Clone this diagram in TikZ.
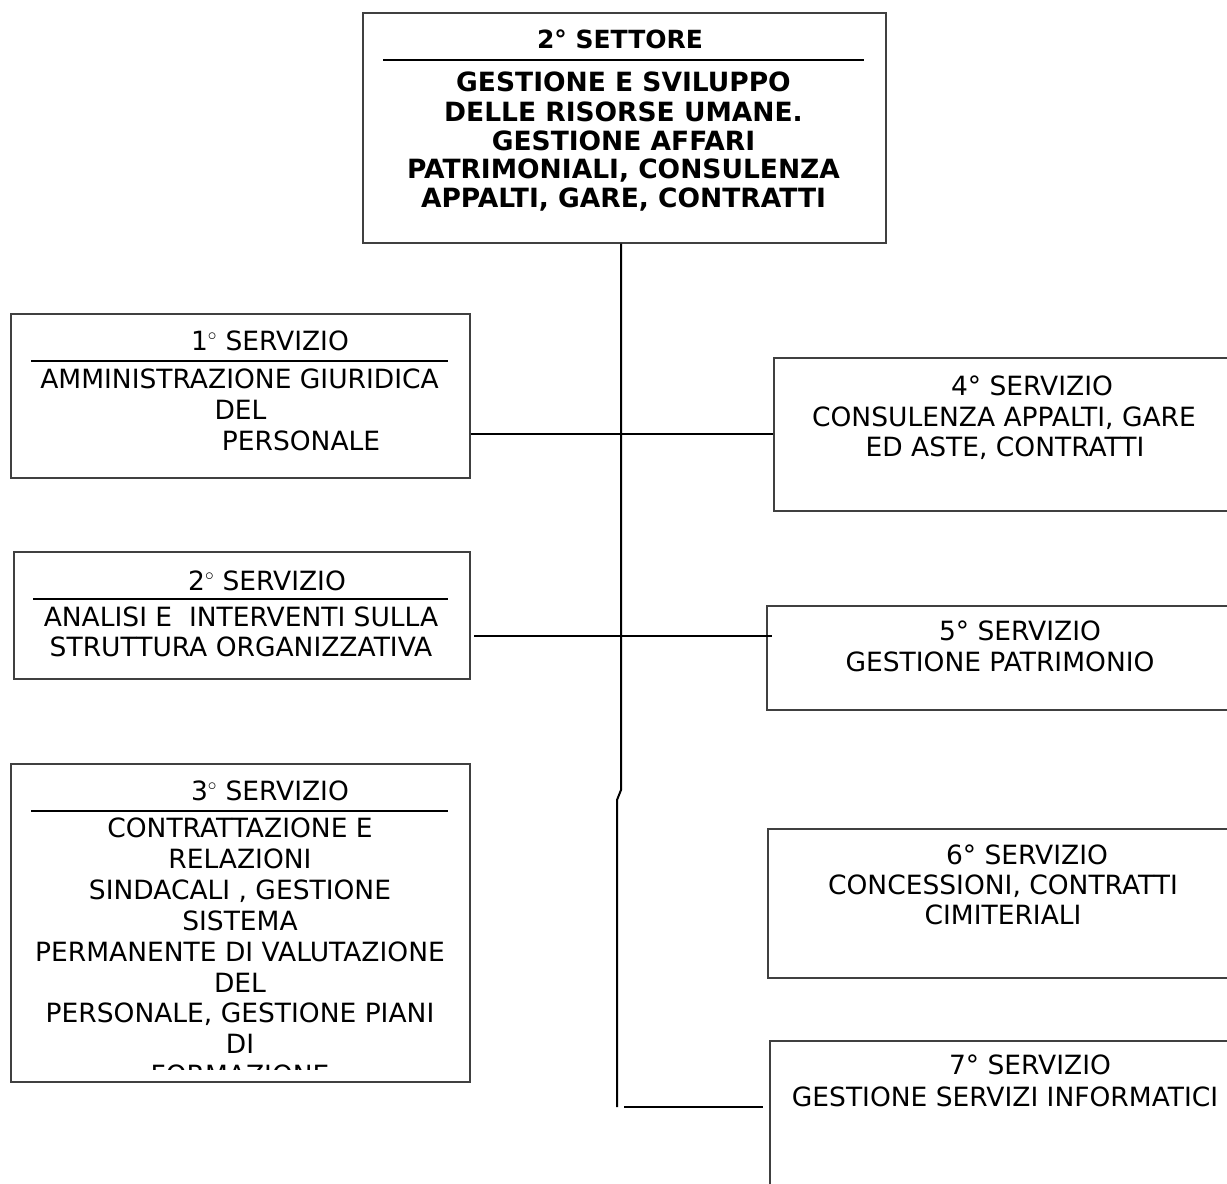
\documentclass[tikz,border=0pt]{standalone}
\usepackage{fontspec}
\setmainfont{DejaVu Sans}
\begin{document}
\begin{tikzpicture}[x=1pt,y=-1pt,
  box/.style={draw=black!75, line width=1.5pt, rectangle, inner sep=0pt, anchor=north west},
  conn/.style={line width=2pt, draw=black},
  rulel/.style={line width=2.8pt, draw=black},
  txt/.style={anchor=base, inner sep=0pt, font=\fontsize{26.5}{31}\selectfont},
  btxt/.style={anchor=base, inner sep=0pt, font=\fontsize{26.5}{31}\selectfont\bfseries},
  ttl/.style={anchor=base, inner sep=0pt, font=\fontsize{25}{30}\selectfont\bfseries}]
\useasboundingbox (0,0) rectangle (1227,1184);
\clip (0,0) rectangle (1227,1184);

% boxes
\node[box, minimum width=523pt, minimum height=230pt] (top) at (362,12) {};
\node[box, minimum width=459pt, minimum height=164pt] (b1) at (10,313) {};
\node[box, minimum width=456pt, minimum height=127pt] (b2) at (13,551) {};
\node[box, minimum width=459pt, minimum height=318pt] (b3) at (10,763) {};
\node[box, minimum width=467pt, minimum height=153pt] (b4) at (773,357) {};
\node[box, minimum width=474pt, minimum height=104pt] (b5) at (766,605) {};
\node[box, minimum width=473pt, minimum height=149pt] (b6) at (767,828) {};
\node[box, minimum width=471pt, minimum height=170pt] (b7) at (769,1040) {};

% top box text
\node[ttl] (t0) at (620,48) {2° SETTORE};
\draw[rulel] (383,60) -- (864,60);
\node[btxt] (t1) at (623.5,91) {GESTIONE E SVILUPPO};
\node[btxt] (t2) at (623.5,121) {DELLE RISORSE UMANE.};
\node[btxt] (t3) at (623.5,150) {GESTIONE AFFARI};
\node[btxt] (t4) at (623.5,178.5) {PATRIMONIALI, CONSULENZA};
\node[btxt] (t5) at (623.5,207.5) {APPALTI, GARE, CONTRATTI};

% box 1
\node[txt] (s1t) at (270,350) {1$^{\circ}$ SERVIZIO};
\draw[rulel] (31,361) -- (448,361);
\node[txt] (s1a) at (239.5,388) {AMMINISTRAZIONE GIURIDICA};
\node[txt] (s1b) at (240.5,419) {DEL};
\node[txt] (s1c) at (301,450) {PERSONALE};

% box 2
\node[txt] (s2t) at (267,590) {2$^{\circ}$ SERVIZIO};
\draw[rulel] (33,599) -- (448,599);
\node[txt] (s2a) at (241,626) {ANALISI E~ INTERVENTI SULLA};
\node[txt] (s2b) at (241,656) {STRUTTURA ORGANIZZATIVA};

% box 3
\node[txt] (s3t) at (270,800) {3$^{\circ}$ SERVIZIO};
\draw[rulel] (31,811) -- (448,811);
\begin{scope}
\clip (10,763) rectangle (469,1069);
\node[txt] (s3a) at (240,837) {CONTRATTAZIONE E};
\node[txt] (s3b) at (240,868) {RELAZIONI};
\node[txt] (s3c) at (240,899) {SINDACALI , GESTIONE};
\node[txt] (s3d) at (240,930) {SISTEMA};
\node[txt] (s3e) at (240,961) {PERMANENTE DI VALUTAZIONE};
\node[txt] (s3f) at (240,992) {DEL};
\node[txt] (s3g) at (240,1022.5) {PERSONALE, GESTIONE PIANI};
\node[txt] (s3h) at (240,1053) {DI};
\node[txt] (s3i) at (240,1084) {FORMAZIONE};
\end{scope}

% box 4
\node[txt] (s4t) at (1032,395) {4° SERVIZIO};
\node[txt] (s4a) at (1004,426) {CONSULENZA APPALTI, GARE};
\node[txt] (s4b) at (1005,456) {ED ASTE, CONTRATTI};

% box 5
\node[txt] (s5t) at (1020,640) {5° SERVIZIO};
\node[txt] (s5a) at (1000,671) {GESTIONE PATRIMONIO};

% box 6
\node[txt] (s6t) at (1027,864) {6° SERVIZIO};
\node[txt] (s6a) at (1003,894) {CONCESSIONI, CONTRATTI};
\node[txt] (s6b) at (1003,924) {CIMITERIALI};

% box 7
\node[txt] (s7t) at (1030,1074) {7° SERVIZIO};
\node[txt] (s7a) at (1005,1106) {GESTIONE SERVIZI INFORMATICI};

% connectors
\coordinate (jogA) at (621,790);
\coordinate (jogB) at (617,800);
\coordinate (vend) at (617,1107);
\draw[conn] (jogA |- top.south) -- (jogA) -- (jogB) -- (vend);
\draw[conn] (b1.east |- b4.west) -- (b4.west);
\coordinate (c2a) at (474,636);
\coordinate (c2b) at (772,636);
\draw[conn] (c2a) -- (c2b);
\coordinate (c7a) at (624,1107);
\coordinate (c7b) at (763,1107);
\draw[conn] (c7a) -- (c7b);
\end{tikzpicture}
\end{document}
